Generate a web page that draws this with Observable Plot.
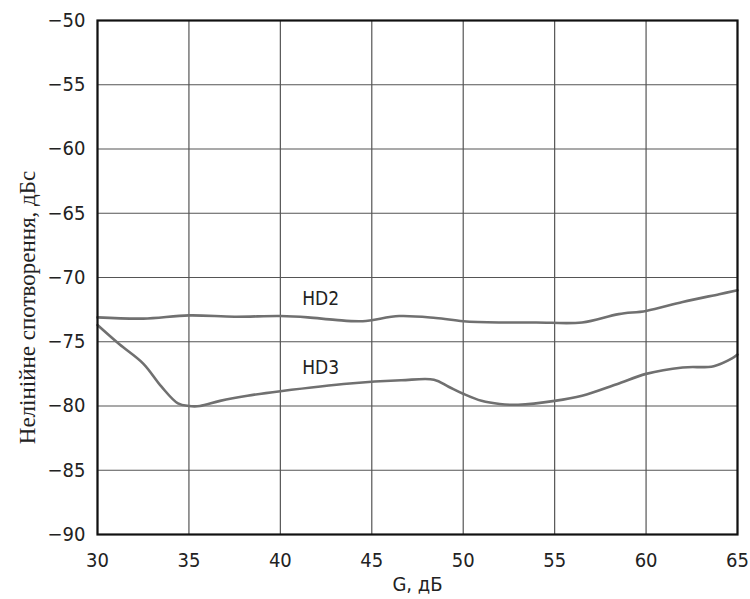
<!DOCTYPE html>
<html>
<head>
<meta charset="utf-8">
<script src="https://cdn.jsdelivr.net/npm/d3@7"></script>
<script src="https://cdn.jsdelivr.net/npm/@observablehq/plot@0.6"></script>
<style>
  html, body { margin: 0; padding: 0; background: #fff; }
  #chart svg { display: block; }
</style>
</head>
<body>
<div id="chart"></div>
<script>
// Gain G, dB
const hd2Gain = [30, 32.5, 35, 37.5, 40, 41.5, 43, 44.5, 46.5, 48.5, 50, 52, 54, 56.5, 58.5, 60, 62, 64, 65];
// Second harmonic distortion, dBc
const hd2Level = [-73.1, -73.2, -72.95, -73.05, -73.0, -73.1, -73.3, -73.4, -73.0, -73.15, -73.4, -73.5, -73.5, -73.5, -72.85, -72.6, -71.9, -71.3, -71.0];

const hd3Gain = [30, 31.2, 32.5, 33.5, 34.4, 35, 35.6, 36.7, 38.2, 40, 43.8, 46.6, 48.4, 49.2, 50, 51, 52, 53, 55, 56.5, 58.4, 60, 62, 63.7, 64.7, 65];
// Third harmonic distortion, dBc
const hd3Level = [-73.7, -75.2, -76.7, -78.5, -79.8, -80.0, -80.0, -79.6, -79.2, -78.85, -78.25, -78.0, -77.95, -78.5, -79.05, -79.6, -79.85, -79.9, -79.6, -79.2, -78.3, -77.5, -77.0, -76.9, -76.3, -76.0];

const xTicks = [30, 35, 40, 45, 50, 55, 60, 65];
const yTicks = [-90, -85, -80, -75, -70, -65, -60, -55, -50];

const seriesNames = ["HD2", "HD3"];
const labelGain = [42.2, 42.2];
const labelLevel = [-71.7, -77.0];

const xTitle = "G, дБ";
const yTitle = "Нелінійне спотворення, дБс";

const hd2 = hd2Gain.map((g, i) => ({g, v: hd2Level[i]}));
const hd3 = hd3Gain.map((g, i) => ({g, v: hd3Level[i]}));
const labels = seriesNames.map((name, i) => ({name, g: labelGain[i], v: labelLevel[i]}));

const numFont = "'Liberation Sans Narrow', 'DejaVu Sans Condensed', sans-serif";
const lineColor = "#707070";

const chart = Plot.plot({
  width: 750,
  height: 599,
  marginLeft: 97,
  marginRight: 13,
  marginTop: 20,
  marginBottom: 65,
  style: {fontFamily: numFont, fontStretch: "condensed", fontSize: "20px", color: "#222", background: "#fff"},
  x: {domain: [30, 65], ticks: xTicks, tickFormat: d => String(d), label: null},
  y: {domain: [-90, -50], ticks: yTicks, tickFormat: d => "\u2212" + Math.abs(d), label: null},
  marks: [
    Plot.gridX(xTicks, {stroke: "#555", strokeOpacity: 1, strokeWidth: 1.2}),
    Plot.gridY(yTicks, {stroke: "#555", strokeOpacity: 1, strokeWidth: 1.2}),
    Plot.axisX({ticks: xTicks, tickSize: 0, tickPadding: 18, fontSize: 20, tickFormat: d => String(d), label: null}),
    Plot.axisY({ticks: yTicks, tickSize: 0, tickPadding: 12, fontSize: 20, tickFormat: d => "\u2212" + Math.abs(d), label: null}),
    Plot.line(hd2, {x: "g", y: "v", stroke: lineColor, strokeWidth: 2.6, curve: "catmull-rom"}),
    Plot.line(hd3, {x: "g", y: "v", stroke: lineColor, strokeWidth: 2.6, curve: "catmull-rom"}),
    Plot.text(labels, {x: "g", y: "v", text: "name", fontSize: 19, fill: "#222"}),
    Plot.frame({stroke: "#111", strokeWidth: 2.2}),
    Plot.text([xTitle], {frameAnchor: "bottom", dy: 56, text: d => d, fontSize: 20, fill: "#222"}),
    Plot.text([yTitle], {frameAnchor: "left", textAnchor: "middle", dx: -70, dy: 30, rotate: -90, text: d => d, fontSize: 23, fill: "#222", fontFamily: "'Liberation Serif', 'DejaVu Serif', serif"})
  ]
});

document.getElementById("chart").appendChild(chart);
</script>
</body>
</html>
